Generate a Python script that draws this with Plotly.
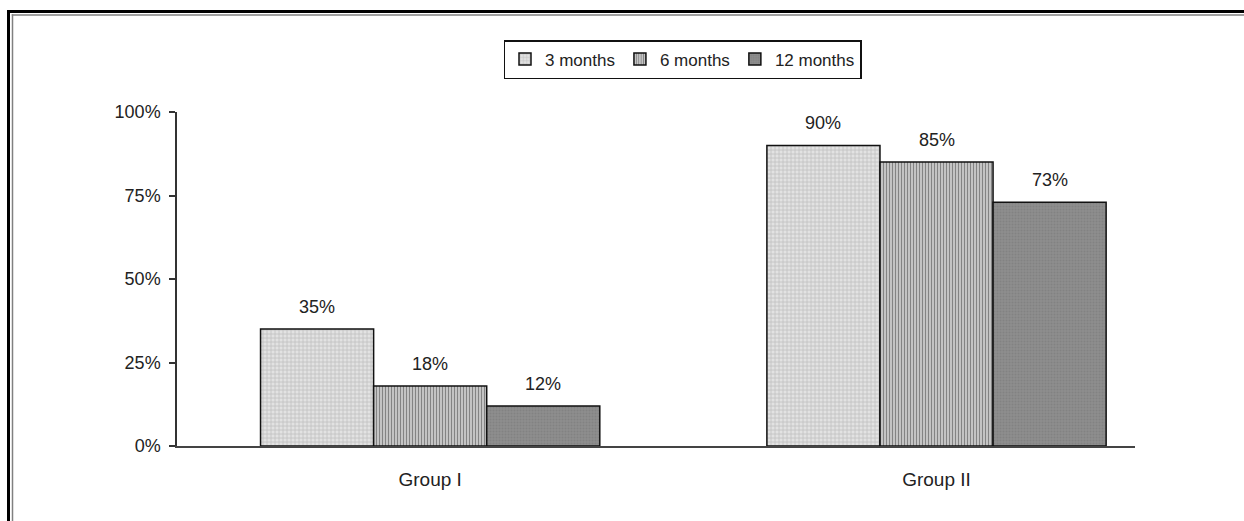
import plotly.graph_objects as go

# Share of patients per group at each follow-up point
groups = ["Group I", "Group II"]
periods = ["3 months", "6 months", "12 months"]
values = {
    "3 months": [0.35, 0.90],
    "6 months": [0.18, 0.85],
    "12 months": [0.12, 0.73],
}
y_ticks = [0, 0.25, 0.5, 0.75, 1.0]
y_tick_labels = ["0%", "25%", "50%", "75%", "100%"]

# Fill patterns per series (grid, vertical streaks, speckled grey)
patterns = {
    "3 months": dict(shape="+", bgcolor="#e2e2e2", fgcolor="#9a9a9a", size=4, solidity=0.35),
    "6 months": dict(shape="|", bgcolor="#eeeeee", fgcolor="#1a1a1a", size=3, solidity=0.6),
    "12 months": dict(shape=".", bgcolor="#8e8e8e", fgcolor="#767676", size=3, solidity=0.4),
}

FONT = "Arial, Liberation Sans, sans-serif"
TEXT = "#222222"
W, H = 1244, 521
L, R, T, B = 177, 109, 112, 75

fig = go.Figure()
for p in periods:
    fig.add_trace(go.Bar(
        name=p,
        x=groups,
        y=values[p],
        marker=dict(pattern=patterns[p], line=dict(color="#111111", width=1.5)),
        hoverinfo="skip",
    ))

# Value labels above every bar
annotations = []
for i, p in enumerate(periods):
    for j, g in enumerate(groups):
        v = values[p][j]
        annotations.append(dict(
            x=j + (i - 1) * 0.67 / 3, y=v, xref="x", yref="y",
            text=f"{round(v * 100)}%", showarrow=False,
            yanchor="bottom", yshift=10,
            font=dict(family=FONT, size=18, color=TEXT),
        ))

# Double frame around the figure (black outer, grey inner)
plot_w = W - L - R
plot_h = H - T - B


def px_x(v):
    return (v - L) / plot_w


def px_y(v):
    return (H - B - v) / plot_h


shapes = []
for xv, yv, col, wd in [(8.5, 11.5, "#000000", 3), (12.5, 15, "#808080", 1.5)]:
    shapes.append(dict(type="line", xref="paper", yref="paper",
                       x0=px_x(xv), x1=px_x(xv), y0=px_y(yv - wd / 2), y1=px_y(560),
                       line=dict(color=col, width=wd)))
    shapes.append(dict(type="line", xref="paper", yref="paper",
                       x0=px_x(xv - wd / 2), x1=px_x(1270), y0=px_y(yv), y1=px_y(yv),
                       line=dict(color=col, width=wd)))

fig.update_layout(
    width=W, height=H,
    margin=dict(l=L, r=R, t=T, b=B, pad=0),
    paper_bgcolor="white", plot_bgcolor="white",
    barmode="group", bargap=0.33, bargroupgap=0,
    font=dict(family=FONT, size=18, color=TEXT),
    showlegend=True,
    legend=dict(
        orientation="h", x=px_x(682.5), xanchor="center",
        y=px_y(40), yanchor="top",
        bordercolor="#111111", borderwidth=1.5, bgcolor="white",
        font=dict(family=FONT, size=17, color=TEXT),
        itemwidth=30, tracegroupgap=0,
    ),
    annotations=annotations,
    shapes=shapes,
)
fig.update_xaxes(
    type="category", range=[-0.5, 1.392],
    showline=True, linecolor="#444444", linewidth=2,
    ticks="", showgrid=False, zeroline=False,
    tickfont=dict(family=FONT, size=19, color=TEXT),
    ticklabelstandoff=15,
)
fig.update_yaxes(
    range=[0, 1], tickvals=y_ticks, ticktext=y_tick_labels,
    showline=True, linecolor="#333333", linewidth=1.5,
    ticks="outside", ticklen=6, tickcolor="#333333", tickwidth=1.5,
    showgrid=False, zeroline=False,
    tickfont=dict(family=FONT, size=18, color=TEXT),
    ticklabelstandoff=5,
)

fig.write_html("out.html")
